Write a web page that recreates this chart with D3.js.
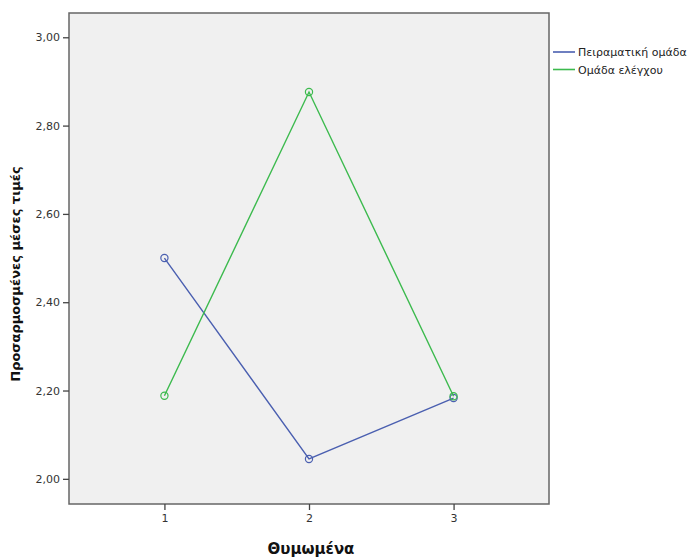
<!DOCTYPE html>
<html>
<head>
<meta charset="utf-8">
<script src="https://cdn.jsdelivr.net/npm/d3@7"></script>
<style>
  body { margin: 0; background: #fff; }
  svg { display: block; }
</style>
</head>
<body>
<div id="chart"></div>
<script>
// data
const xCats = [1, 2, 3];
const yTicks = [2.0, 2.2, 2.4, 2.6, 2.8, 3.0];
const seriesNames = ["Πειραματική ομάδα", "Ομάδα ελέγχου"];
const seriesColors = ["#4a5fb0", "#3cba4e"];
const experimental = [2.50, 2.045, 2.183];
const control = [2.188, 2.876, 2.187];

const totalW = 689, totalH = 559;
const frame = { left: 69, top: 13, right: 549, bottom: 504 };

const svg = d3.select("#chart").append("svg")
  .attr("width", totalW).attr("height", totalH);

const xScale = d3.scaleLinear().domain([0.34, 3.66]).range([frame.left, frame.right]);
const yScale = d3.scaleLinear().domain([1.943, 3.055]).range([frame.bottom, frame.top]);

const FONT = "'DejaVu Sans', sans-serif";

// plot background + frame
svg.append("rect")
  .attr("x", frame.left).attr("y", frame.top)
  .attr("width", frame.right - frame.left).attr("height", frame.bottom - frame.top)
  .attr("fill", "#f0f0f0").attr("stroke", "#666").attr("stroke-width", 1.5);

// axes
const TICK = sel => sel
  .call(a => a.select(".domain").remove())
  .call(a => a.selectAll("line").attr("stroke", "#444").attr("stroke-width", 1.3))
  .call(a => a.selectAll("text").attr("fill", "#333")
    .style("font-family", FONT).style("font-size", "11px"));

svg.append("g").attr("transform", `translate(${frame.left},0)`)
  .call(d3.axisLeft(yScale).tickValues(yTicks).tickSize(6).tickPadding(3)
    .tickFormat(d => d3.format(".2f")(d).replace(".", ",")))
  .call(TICK);

svg.append("g").attr("transform", `translate(0,${frame.bottom})`)
  .call(d3.axisBottom(xScale).tickValues(xCats).tickSize(6).tickPadding(4)
    .tickFormat(d3.format("d")))
  .call(TICK);

// axis titles
svg.append("text")
  .attr("x", 311).attr("y", 554)
  .attr("text-anchor", "middle").attr("fill", "#111")
  .style("font-family", FONT).style("font-size", "15px").style("font-weight", "bold")
  .text("Θυμωμένα");

svg.append("text")
  .attr("transform", "translate(20,274) rotate(-90)")
  .attr("text-anchor", "middle").attr("fill", "#111")
  .style("font-family", FONT).style("font-size", "13px").style("font-weight", "bold")
  .text("Προσαρμοσμένες μέσες τιμές");

// series
const line = d3.line().x((d, i) => xScale(xCats[i])).y(d => yScale(d));
[experimental, control].forEach((vals, si) => {
  const g = svg.append("g");
  g.append("path").datum(vals)
    .attr("d", line).attr("fill", "none")
    .attr("stroke", seriesColors[si]).attr("stroke-width", 1.4);
  g.selectAll("circle").data(vals).join("circle")
    .attr("cx", (d, i) => xScale(xCats[i])).attr("cy", d => yScale(d))
    .attr("r", 3.6).attr("fill", "none")
    .attr("stroke", seriesColors[si]).attr("stroke-width", 1.2);
});

// legend
const lg = svg.append("g").attr("transform", "translate(553,52)");
seriesNames.forEach((name, i) => {
  lg.append("line").attr("x1", 0).attr("x2", 22).attr("y1", i * 17.5).attr("y2", i * 17.5)
    .attr("stroke", seriesColors[i]).attr("stroke-width", 1.6);
  lg.append("text").attr("x", 25).attr("y", i * 17.5 + 4)
    .attr("fill", "#222")
    .style("font-family", FONT).style("font-size", "11px")
    .text(name);
});
</script>
</body>
</html>
